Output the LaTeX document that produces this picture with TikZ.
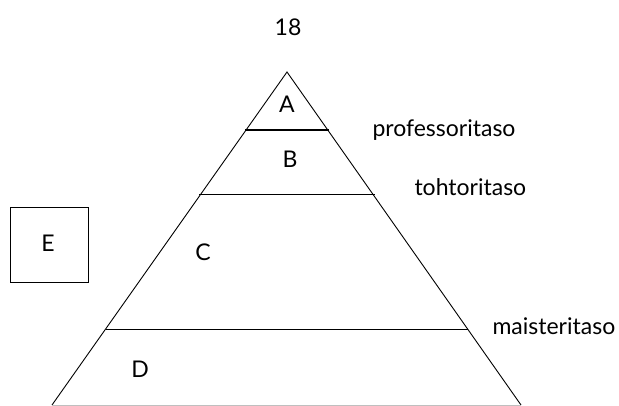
\documentclass[tikz,border=0pt]{standalone}
\usepackage{fontspec}
\setmainfont{Lato}
\usepackage{tikz}

\begin{document}
\begin{tikzpicture}[x=1pt,y=-1pt,font=\fontsize{23}{27}\selectfont,
  level/.style={anchor=west}]
\useasboundingbox (0,0) rectangle (619,406);

\coordinate (top) at (287,72);
\coordinate (bl) at (52,405);
\coordinate (br) at (521,405);

\draw[line width=0.9pt] (bl) -- (top) -- (br);
\draw[line width=0.5pt,draw=lightgray] (bl) -- (br);
\draw[line width=1.8pt] (245,130) -- (329,130);
\draw[line width=0.9pt] (199,194) -- (375,194);
\draw[line width=0.9pt] (106,329) -- (468,329);

\draw[line width=0.9pt] (10,207) rectangle (88,282);

\node (nro) at (288,27) {18};
\node (a) at (287,104) {A};
\node (b) at (290,159) {B};
\node (c) at (203,252) {C};
\node (d) at (140,369) {D};
\node (e) at (48,243) {E};
\node[level] (prof) at (369,130) {professoritaso};
\node[level] (toht) at (411,187) {tohtoritaso};
\node[level] (mais) at (489,326) {maisteritaso};
\end{tikzpicture}
\end{document}
